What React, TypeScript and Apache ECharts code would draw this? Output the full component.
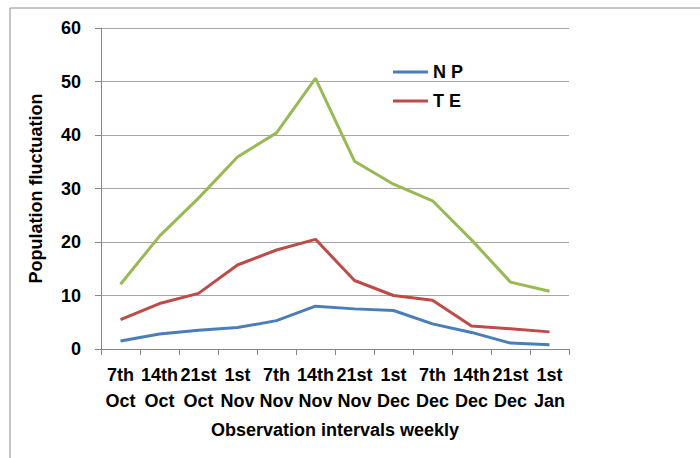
import React, { useEffect, useRef } from "react";
import * as echarts from "echarts";

const categories = [
  "7th\nOct", "14th\nOct", "21st\nOct", "1st\nNov", "7th\nNov", "14th\nNov",
  "21st\nNov", "1st\nDec", "7th\nDec", "14th\nDec", "21st\nDec", "1st\nJan",
];
const npValues = [1.5, 2.8, 3.5, 4.0, 5.3, 8.0, 7.5, 7.2, 4.7, 3.1, 1.1, 0.8];
const teValues = [5.5, 8.5, 10.4, 15.7, 18.5, 20.5, 12.8, 10.0, 9.1, 4.3, 3.8, 3.2];
const thirdValues = [12.1, 21.1, 28.2, 35.9, 40.4, 50.6, 35.1, 30.8, 27.7, 20.4, 12.5, 10.8];

const FONT = "'Liberation Sans Narrow', sans-serif";

export default function App() {
  const ref = useRef<HTMLDivElement>(null);
  useEffect(() => {
    document.body.style.margin = "0";
    const chart = echarts.init(ref.current!, null, { renderer: "svg" });
    const axisGray = "#868686";
    chart.setOption({
      animation: false,
      backgroundColor: "#ffffff",
      graphic: [
        {
          type: "rect",
          shape: { x: 10, y: 8, width: 900, height: 900 },
          style: { fill: "none", stroke: "#8c8c8c", lineWidth: 1 },
          silent: true,
        },
      ],
      grid: { left: 101, right: 131, top: 28, bottom: 109 },
      legend: {
        orient: "vertical",
        left: 388,
        top: 58,
        itemWidth: 35,
        itemHeight: 3,
        itemGap: 11,
        icon: "rect",
        data: ["N P", "T E"],
        textStyle: { fontFamily: FONT, fontWeight: "bold", fontSize: 18, color: "#000" },
      },
      xAxis: {
        type: "category",
        data: categories,
        boundaryGap: true,
        name: "Observation intervals weekly",
        nameLocation: "middle",
        nameGap: 72,
        nameTextStyle: { fontFamily: FONT, fontWeight: "bold", fontSize: 18, color: "#000" },
        axisLine: { lineStyle: { color: axisGray, width: 1 } },
        axisTick: { show: true, length: 6, lineStyle: { color: axisGray }, alignWithLabel: false },
        axisLabel: {
          interval: 0,
          margin: 13,
          lineHeight: 26,
          fontFamily: FONT,
          fontWeight: "bold",
          fontSize: 18,
          color: "#000",
        },
        splitLine: { show: false },
      },
      yAxis: {
        type: "value",
        min: 0,
        max: 60,
        interval: 10,
        name: "Population fluctuation",
        nameLocation: "middle",
        nameGap: 56,
        nameTextStyle: { fontFamily: FONT, fontWeight: "bold", fontSize: 18, color: "#000" },
        axisLine: { show: true, lineStyle: { color: axisGray, width: 1 } },
        axisTick: { show: true, length: 6, inside: false, lineStyle: { color: axisGray } },
        axisLabel: { margin: 20, fontFamily: FONT, fontWeight: "bold", fontSize: 18, color: "#000" },
        splitLine: { show: true, lineStyle: { color: "#a6a6a6", width: 1 } },
      },
      series: [
        {
          name: "N P",
          type: "line",
          data: npValues,
          symbol: "none",
          lineStyle: { width: 3, color: "#4a7ebb" },
          itemStyle: { color: "#4a7ebb" },
        },
        {
          name: "T E",
          type: "line",
          data: teValues,
          symbol: "none",
          lineStyle: { width: 3, color: "#be4b48" },
          itemStyle: { color: "#be4b48" },
        },
        {
          name: "",
          type: "line",
          data: thirdValues,
          symbol: "none",
          lineStyle: { width: 3, color: "#98b954" },
          itemStyle: { color: "#98b954" },
        },
      ],
    });
    return () => chart.dispose();
  }, []);
  return <div ref={ref} style={{ width: 700, height: 458 }} />;
}
